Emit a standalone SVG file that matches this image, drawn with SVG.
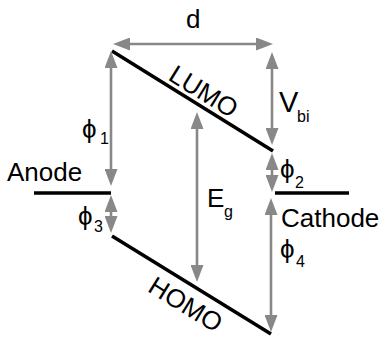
<svg xmlns="http://www.w3.org/2000/svg" width="387" height="338" viewBox="0 0 387 338">
<defs>
<marker id="ah" viewBox="0 0 17 13" refX="0" refY="6.5" markerWidth="17" markerHeight="13" markerUnits="userSpaceOnUse" orient="auto-start-reverse">
<path d="M0,0 L17,6.5 L0,13 Z" fill="#888888"/>
</marker>
</defs>
<style>
.lvl{stroke:#000;stroke-width:3.5;fill:none}
.arr{stroke:#888888;stroke-width:2.6;fill:none;marker-start:url(#ah);marker-end:url(#ah)}
text{font-family:"Liberation Sans",Arial,sans-serif;fill:#000}
.lb{font-size:26px}
.ph{font-size:26px}
.sb{font-size:16px}
</style>
<rect width="387" height="338" fill="#fff"/>
<g id="levels">
<g id="lumo"><line class="lvl" x1="112" y1="51" x2="273" y2="151"/>
<text class="lb" text-anchor="middle" transform="translate(199,99) rotate(31.6)">LUMO</text></g>
<g id="homo"><line class="lvl" x1="112" y1="236" x2="271" y2="334"/>
<text class="lb" text-anchor="middle" transform="translate(181,312) rotate(31.6)">HOMO</text></g>
<g id="anode"><line class="lvl" x1="34" y1="193" x2="111" y2="193"/>
<text class="lb" x="7" y="181">Anode</text></g>
<g id="cathode"><line class="lvl" x1="275" y1="193" x2="349" y2="193"/>
<text class="lb" x="281" y="227">Cathode</text></g>
</g>
<g id="connectors">
<line id="d-arrow" class="arr" x1="130" y1="44" x2="256" y2="44"/>
<line id="phi1-arrow" class="arr" x1="111" y1="68" x2="111" y2="169"/>
<line id="phi3-arrow" class="arr" x1="111" y1="212" x2="111" y2="216"/>
<line id="eg-arrow" class="arr" x1="197" y1="129" x2="197" y2="265"/>
<line id="vbi-arrow" class="arr" x1="272" y1="69" x2="272" y2="128"/>
<line id="phi2-arrow" class="arr" x1="272" y1="170" x2="272" y2="175"/>
<line id="phi4-arrow" class="arr" x1="271" y1="215" x2="271" y2="315"/>
</g>
<g id="labels">
<text class="lb" x="186" y="28">d</text>
<text id="phi1"><tspan class="ph" x="82" y="138">ϕ</tspan><tspan class="sb" x="100" y="144">1</tspan></text>
<text id="phi3"><tspan class="ph" x="78" y="225">ϕ</tspan><tspan class="sb" x="94" y="232">3</tspan></text>
<text id="phi2"><tspan class="ph" x="280" y="178">ϕ</tspan><tspan class="sb" x="295" y="188">2</tspan></text>
<text id="phi4"><tspan class="ph" x="280" y="258">ϕ</tspan><tspan class="sb" x="296" y="267">4</tspan></text>
<text id="vbi"><tspan x="279" y="112" style="font-size:29px">V</tspan><tspan class="sb" x="297" y="122">bi</tspan></text>
<text id="eg"><tspan class="lb" x="207" y="207">E</tspan><tspan class="sb" x="224" y="217">g</tspan></text>
</g>
</svg>
